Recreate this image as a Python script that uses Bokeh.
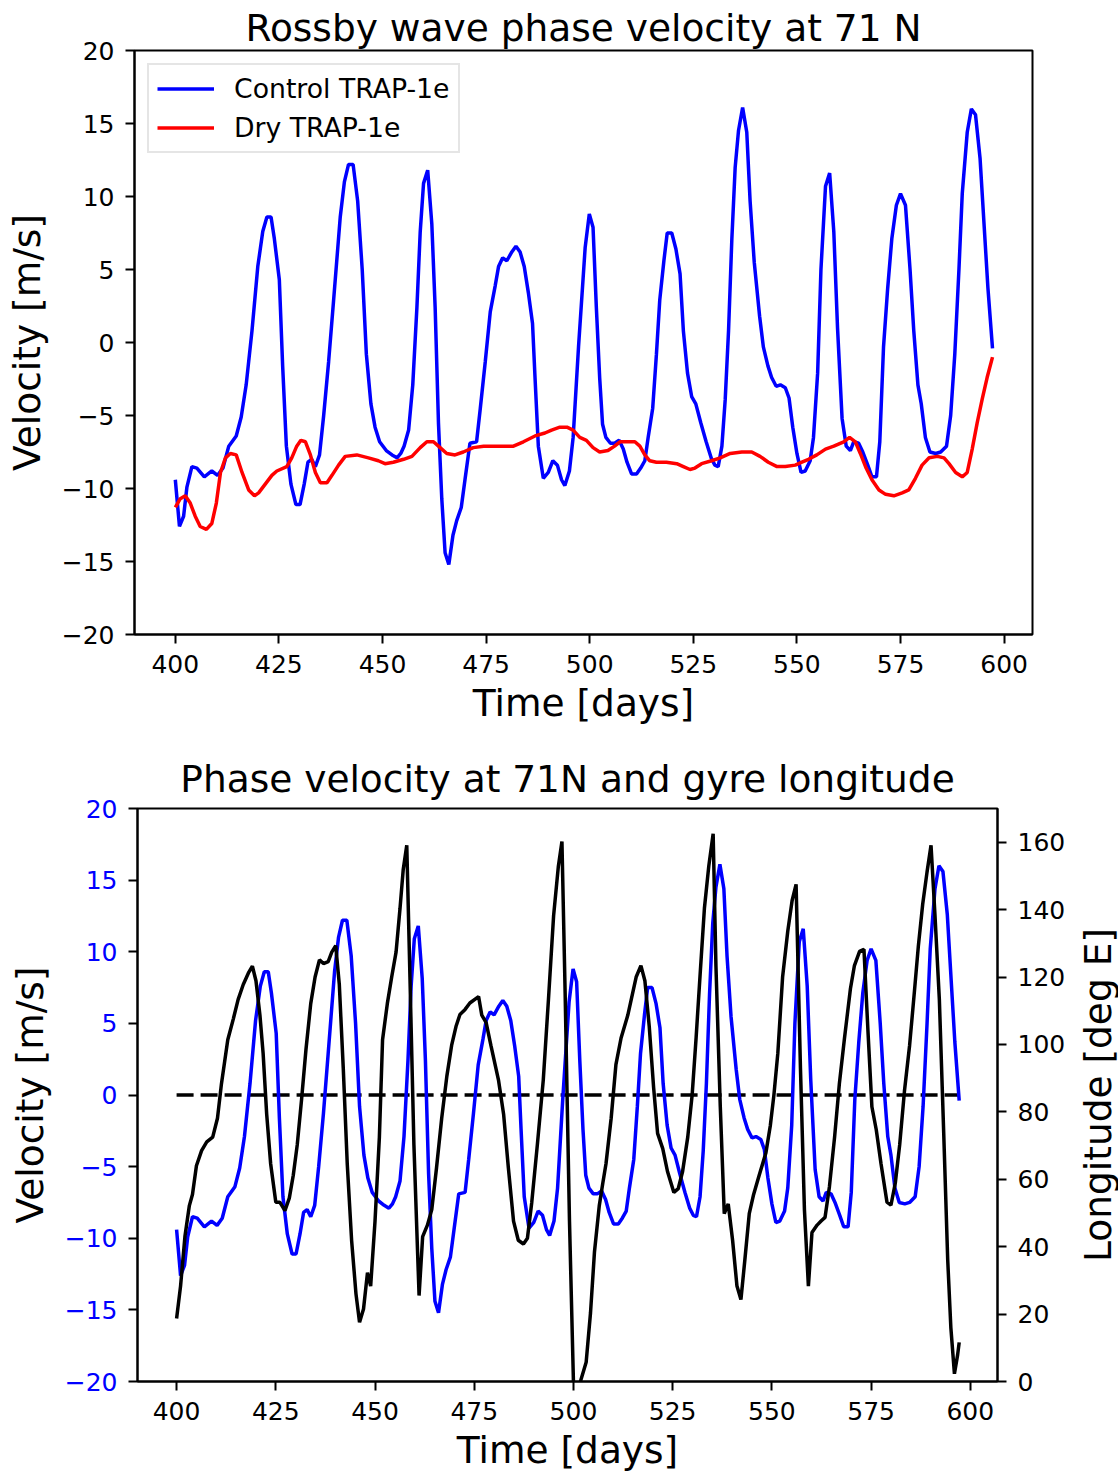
import math
from bokeh.plotting import figure
from bokeh.layouts import row
from bokeh.models import Range1d, LinearAxis, FixedTicker
from bokeh.core.properties import value
from bokeh.embed import file_html
from bokeh.resources import INLINE

# ---------------- data ----------------
blue_days = [400.0, 401.0, 402.0, 402.8, 404.0, 405.2, 407.0, 408.8, 410.2, 411.5, 412.9, 414.7, 415.9, 417.1,
             418.5, 419.9, 421.1, 422.1, 423.1, 423.9, 425.1, 425.9, 426.8, 427.9, 429.1, 430.1, 431.1, 432.0,
             432.9, 433.8, 434.8, 435.8, 437.0, 438.2, 439.8, 440.8, 441.8, 442.9, 444.0, 445.1, 446.1, 447.2,
             448.2, 449.3, 450.9, 452.3, 453.5, 454.4, 455.2, 456.3, 457.3, 458.3, 459.1, 459.9, 460.9, 461.9,
             462.7, 463.5, 464.3, 465.1, 466.0, 467.0, 467.9, 469.0, 469.9, 471.1, 472.7, 473.6, 474.8, 476.0,
             477.2, 478.0, 479.0, 480.0, 481.2, 482.2, 483.2, 484.2, 485.2, 486.2, 486.8, 487.6, 488.8, 490.0,
             491.1, 492.2, 493.2, 494.0, 495.1, 496.0, 497.3, 498.9, 499.9, 500.8, 501.6, 502.4, 503.1, 503.9,
             505.0, 506.0, 507.1, 508.1, 509.0, 510.1, 511.3, 512.3, 513.3, 514.1, 515.2, 516.1, 516.9, 517.9,
             518.7, 519.8, 520.8, 521.8, 522.6, 523.6, 524.6, 525.6, 526.8, 528.1, 529.3, 530.2, 531.0, 531.9,
             532.7, 533.5, 534.3, 535.1, 535.9, 536.9, 537.9, 538.7, 539.7, 541.0, 541.9, 543.0, 543.9, 545.0,
             546.0, 547.2, 548.1, 549.0, 550.0, 551.0, 552.0, 553.2, 554.0, 555.0, 555.8, 556.9, 557.9, 558.9,
             559.8, 560.9, 561.9, 562.9, 563.7, 564.9, 565.9, 567.1, 568.1, 569.2, 570.0, 570.9, 571.9, 572.9,
             574.0, 575.0, 576.2, 577.3, 578.2, 579.2, 580.0, 581.0, 582.1, 583.5, 584.7, 586.1, 587.1, 588.1,
             589.1, 589.9, 591.1, 592.1, 593.1, 594.2, 595.2, 596.1, 597.2]
blue_vel = [-9.4, -12.6, -11.9, -9.9, -8.5, -8.6, -9.2, -8.8, -9.1, -8.6, -7.1, -6.4, -5.1, -2.9,
            0.8, 5.2, 7.6, 8.6, 8.6, 7.1, 4.3, -1.6, -7.1, -9.7, -11.1, -11.1, -9.7, -8.2,
            -8.0, -8.5, -7.7, -5.0, -1.3, 2.9, 8.6, 11.0, 12.2, 12.2, 9.7, 5.0, -0.8, -4.2,
            -5.8, -6.8, -7.4, -7.7, -7.9, -7.6, -7.1, -6.0, -2.9, 2.4, 7.6, 10.9, 11.8, 8.1,
            2.4, -5.5, -10.7, -14.4, -15.2, -13.2, -12.2, -11.3, -9.4, -6.9, -6.8, -4.5, -1.3, 2.1,
            3.9, 5.2, 5.8, 5.6, 6.2, 6.6, 6.2, 5.2, 3.4, 1.3, -2.4, -7.1, -9.3, -8.9,
            -8.1, -8.4, -9.4, -9.8, -8.8, -6.5, -0.3, 6.5, 8.8, 7.9, 2.4, -2.4, -5.6, -6.5,
            -6.9, -6.9, -6.7, -7.3, -8.2, -9.0, -9.0, -8.6, -8.1, -6.5, -4.5, -0.8, 2.9, 5.6,
            7.5, 7.5, 6.4, 4.7, 0.8, -2.1, -3.7, -4.2, -5.5, -6.8, -7.9, -8.4, -8.5, -7.1,
            -3.9, 0.8, 7.1, 12.0, 14.5, 16.1, 14.4, 9.7, 5.5, 1.8, -0.3, -1.6, -2.4, -3.0,
            -2.9, -3.1, -3.8, -5.8, -7.6, -8.9, -8.8, -8.1, -6.5, -2.1, 5.0, 10.7, 11.6, 7.6,
            1.0, -5.2, -7.1, -7.4, -6.8, -6.9, -7.5, -8.4, -9.2, -9.2, -6.8, -0.3, 3.7, 7.1,
            9.4, 10.2, 9.4, 5.0, 0.8, -2.9, -4.2, -6.5, -7.5, -7.6, -7.5, -7.1, -5.0, -0.8,
            5.0, 10.2, 14.4, 16.0, 15.6, 12.6, 7.9, 3.7, -0.4]

red_days = [400.0, 401.2, 402.4, 403.6, 404.8, 406.0, 407.5, 408.8, 409.9, 410.9, 412.1, 413.3, 414.7, 416.1,
            417.7, 419.1, 420.1, 421.7, 423.3, 424.5, 426.9, 428.1, 429.3, 430.3, 431.4, 432.6, 433.8, 435.0,
            436.6, 437.8, 439.4, 441.0, 443.8, 446.6, 449.0, 450.6, 452.6, 455.1, 457.1, 459.1, 460.7, 462.3,
            463.9, 465.5, 467.5, 469.5, 471.9, 474.4, 477.6, 481.6, 484.0, 486.8, 489.2, 490.8, 492.8, 494.5,
            496.0, 497.6, 499.2, 500.8, 502.4, 504.4, 506.0, 507.3, 508.9, 510.9, 512.1, 513.3, 514.5, 516.1,
            518.5, 521.0, 522.6, 524.2, 525.4, 527.0, 529.4, 531.5, 533.9, 536.7, 539.1, 541.1, 543.1, 545.2,
            547.2, 549.6, 551.2, 552.8, 554.8, 556.9, 558.9, 561.3, 562.7, 564.1, 565.3, 566.7, 568.1, 569.8,
            571.4, 573.4, 575.4, 577.0, 578.6, 580.2, 581.9, 583.9, 585.5, 586.7, 588.3, 589.9, 591.1, 592.3,
            593.5, 594.7, 595.9, 597.2]
red_vel = [-11.3, -10.7, -10.5, -11.0, -11.9, -12.6, -12.8, -12.4, -11.0, -8.9, -7.9, -7.6, -7.7, -8.9,
           -10.1, -10.5, -10.3, -9.7, -9.1, -8.8, -8.5, -7.9, -7.1, -6.7, -6.8, -7.7, -8.9, -9.6,
           -9.6, -9.1, -8.4, -7.8, -7.7, -7.9, -8.1, -8.3, -8.2, -8.0, -7.8, -7.2, -6.8, -6.8,
           -7.2, -7.6, -7.7, -7.5, -7.2, -7.1, -7.1, -7.1, -6.8, -6.4, -6.2, -6.0, -5.8, -5.8,
           -6.0, -6.5, -6.7, -7.2, -7.5, -7.4, -7.1, -6.8, -6.8, -6.8, -7.1, -7.7, -8.1, -8.2,
           -8.2, -8.3, -8.5, -8.7, -8.6, -8.3, -8.1, -7.9, -7.6, -7.5, -7.5, -7.8, -8.2, -8.5,
           -8.5, -8.4, -8.2, -8.0, -7.7, -7.3, -7.1, -6.8, -6.5, -6.8, -7.6, -8.6, -9.4, -10.1,
           -10.4, -10.5, -10.3, -10.1, -9.3, -8.4, -7.9, -7.8, -7.9, -8.3, -8.9, -9.2, -8.9, -7.3,
           -5.5, -3.9, -2.4, -1.0]

black_days = [400.0, 401.0, 402.1, 403.2, 404.0, 405.0, 406.3, 407.6, 409.1, 410.3, 411.3, 412.9, 414.3, 415.5,
              416.8, 418.1, 419.1, 420.0, 421.0, 421.8, 422.7, 423.7, 425.0, 426.0, 427.3, 428.4, 429.4, 430.4,
              431.5, 432.6, 433.8, 434.9, 436.0, 437.0, 438.2, 439.1, 440.1, 441.0, 442.0, 443.0, 444.1, 445.2,
              446.1, 447.1, 448.1, 448.9, 450.0, 451.1, 451.9, 453.1, 454.2, 455.3, 456.3, 457.1, 458.0, 458.8,
              459.8, 461.1, 462.0, 463.2, 464.3, 465.5, 466.8, 468.1, 469.3, 470.4, 471.4, 472.7, 473.9, 476.1,
              476.9, 478.0, 479.2, 481.1, 482.4, 483.6, 484.9, 486.1, 487.4, 488.4, 489.5, 490.9, 492.4, 493.7,
              495.0, 496.2, 497.1, 497.9, 499.0, 500.1, 501.1, 502.0, 503.2, 504.3, 505.3, 506.5, 507.4, 508.2,
              509.5, 510.7, 512.0, 513.7, 515.8, 517.0, 518.0, 519.1, 520.2, 521.2, 522.5, 523.7, 525.3, 526.4,
              527.5, 528.8, 529.9, 530.9, 532.0, 533.0, 534.1, 535.2, 535.9, 537.0, 538.0, 539.0, 540.1, 541.2,
              542.2, 543.2, 544.3, 545.4, 546.8, 548.5, 549.6, 550.5, 551.5, 552.7, 554.0, 555.1, 556.1, 557.2,
              558.2, 559.2, 560.1, 561.4, 562.4, 563.4, 564.5, 565.8, 567.0, 568.3, 569.8, 570.8, 572.1, 573.2,
              574.2, 575.2, 576.3, 577.5, 579.0, 580.0, 581.1, 582.2, 583.4, 584.7, 585.9, 586.9, 588.0, 589.1,
              590.1, 591.1, 592.2, 593.3, 594.3, 595.1, 596.0, 596.8, 597.2]
black_lon = [18.7, 28.3, 43.0, 52.1, 55.5, 64.0, 68.5, 71.1, 72.5, 78.1, 88.3, 101.4, 107.6, 113.3,
             117.8, 121.2, 123.2, 118.9, 108.7, 97.4, 79.3, 64.6, 53.2, 53.2, 50.7, 54.4, 61.2, 70.2,
             83.8, 98.5, 112.1, 120.0, 125.1, 124.0, 124.6, 127.4, 129.3, 117.8, 92.9, 64.6, 41.9, 26.0,
             17.6, 21.5, 32.3, 28.3, 47.6, 72.5, 101.4, 112.1, 120.0, 127.4, 140.4, 151.8, 159.1, 120.0,
             70.2, 25.5, 43.0, 46.4, 51.0, 63.4, 78.1, 90.6, 99.7, 105.3, 108.9, 110.4, 112.3, 114.2,
             108.7, 106.5, 99.7, 89.5, 79.3, 63.4, 47.6, 41.9, 40.8, 42.5, 53.2, 70.2, 89.5, 113.3,
             138.2, 152.9, 160.2, 115.5, 47.6, -5.0, -3.0, 1.0, 5.7, 20.4, 38.5, 52.1, 58.9, 64.6,
             78.1, 94.0, 101.9, 108.7, 120.0, 123.4, 118.9, 105.3, 87.2, 73.6, 69.1, 62.3, 56.1, 57.2,
             62.3, 72.5, 84.9, 101.9, 122.3, 140.4, 152.9, 162.5, 123.4, 81.5, 49.8, 52.7, 41.9, 28.3,
             24.3, 36.2, 49.8, 55.5, 61.2, 67.9, 75.9, 84.9, 97.4, 120.0, 133.6, 142.7, 147.5, 92.9,
             51.0, 28.3, 44.2, 46.4, 47.6, 48.7, 57.8, 72.5, 88.3, 101.9, 116.6, 123.4, 127.6, 128.2,
             104.2, 81.5, 74.7, 64.6, 53.2, 52.3, 58.9, 70.2, 86.1, 99.7, 115.5, 129.1, 141.6, 151.2,
             159.1, 138.2, 113.3, 73.6, 36.2, 15.9, 2.3, 7.9, 11.6]

x_ticks = [400, 425, 450, 475, 500, 525, 550, 575, 600]
vel_ticks = [-20, -15, -10, -5, 0, 5, 10, 15, 20]
vel_tick_labels = ["\u221220", "\u221215", "\u221210", "\u22125", "0", "5", "10", "15", "20"]
lon_ticks = [0, 20, 40, 60, 80, 100, 120, 140, 160]
right_axis_label = "Longitude [deg E]"

X_START, X_END = 390.15, 606.85
VEL_MIN, VEL_MAX = -20, 20
LON_MIN, LON_MAX = 0, 170

zero_x = [blue_days[0], blue_days[-1]]
zero_y = [0, 0]

FONT = "DejaVu Sans"
BLUE = "#0000ff"
RED = "#ff0000"


def style_axis(ax, label_color="black", label_standoff=11, axis_label_standoff=8):
    ax.major_label_text_font = FONT
    ax.major_label_text_font_size = "25px"
    ax.major_label_text_color = label_color
    ax.axis_label_text_font = FONT
    ax.axis_label_text_font_size = "37.5px"
    ax.axis_label_text_font_style = "normal"
    ax.axis_label_text_color = "black"
    ax.axis_line_color = "black"
    ax.axis_line_width = 2
    ax.major_tick_line_color = "black"
    ax.major_tick_line_width = 2
    ax.major_tick_out = 9
    ax.major_tick_in = 0
    ax.minor_tick_out = 0
    ax.minor_tick_in = 0
    ax.major_label_standoff = label_standoff
    ax.axis_label_standoff = axis_label_standoff


def base_fig(title, width, height, bl, br, bt, bb, title_standoff):
    p = figure(width=width, height=height, output_backend="svg", toolbar_location=None,
               x_range=Range1d(X_START, X_END), y_range=Range1d(VEL_MIN, VEL_MAX),
               min_border_left=bl, min_border_right=br, min_border_top=bt, min_border_bottom=bb,
               title=title)
    p.title.text_font = FONT
    p.title.text_font_size = "37.5px"
    p.title.text_font_style = "normal"
    p.title.text_color = "black"
    p.title.align = "center"
    p.title.standoff = title_standoff
    p.xgrid.visible = False
    p.ygrid.visible = False
    p.outline_line_color = "black"
    p.outline_line_width = 2
    p.outline_line_alpha = 1.0
    p.xaxis.ticker = FixedTicker(ticks=x_ticks)
    p.yaxis.ticker = FixedTicker(ticks=vel_ticks)
    p.yaxis.major_label_overrides = {t: l for t, l in zip(vel_ticks, vel_tick_labels)}
    p.xaxis.axis_label = "Time [days]"
    p.yaxis.axis_label = "Velocity [m/s]"
    return p


# ---------------- top figure ----------------
p1 = base_fig("Rossby wave phase velocity at 71 N", 1111, 730, 134, 79, 50, 96, 2)
p1.title.text_line_height = 0.8
style_axis(p1.xaxis[0], label_standoff=11, axis_label_standoff=5)
style_axis(p1.yaxis[0], label_standoff=11, axis_label_standoff=10)
p1.line(blue_days, blue_vel, line_color=BLUE, line_width=3.5, legend_label="Control TRAP-1e")
p1.line(red_days, red_vel, line_color=RED, line_width=3.5, legend_label="Dry TRAP-1e")
lg = p1.legend[0]
lg.location = "top_left"
lg.margin = 13
lg.padding = 8
lg.spacing = 8
lg.label_text_font = FONT
lg.label_text_font_size = "26.7px"
lg.label_text_color = "black"
lg.label_standoff = 20
lg.glyph_width = 57
lg.glyph_height = 31
lg.label_height = 31
lg.border_line_color = "#cccccc"
lg.border_line_width = 2
lg.background_fill_alpha = 0.8

# ---------------- bottom figure ----------------
P2_TOP, P2_BOTTOM = 78, 92
p2 = base_fig("Phase velocity at 71N and gyre longitude", 1076, 744, 137, 79, P2_TOP, P2_BOTTOM, 15)
style_axis(p2.xaxis[0], label_standoff=11, axis_label_standoff=5)
style_axis(p2.yaxis[0], label_color=BLUE, label_standoff=11, axis_label_standoff=10)
p2.extra_y_ranges = {"lon": Range1d(LON_MIN, LON_MAX)}
rax = LinearAxis(y_range_name="lon", ticker=FixedTicker(ticks=lon_ticks))
style_axis(rax, label_standoff=11)
p2.add_layout(rax, "right")
p2.line(zero_x, zero_y, line_color="black", line_width=3.5, line_dash="17 7")
p2.line(blue_days, blue_vel, line_color=BLUE, line_width=3.5)
p2.line(black_days, black_lon, line_color="black", line_width=3.5, y_range_name="lon")

# narrow strip holding the right-hand axis title (reads bottom-to-top like the original)
lab = figure(width=42, height=744, output_backend="svg", toolbar_location=None,
             x_range=Range1d(0, 1), y_range=Range1d(LON_MIN, LON_MAX),
             min_border_left=0, min_border_right=0, min_border_top=P2_TOP, min_border_bottom=P2_BOTTOM)
lab.axis.visible = False
lab.grid.visible = False
lab.outline_line_color = None
lab.text(x=[0.5], y=[(LON_MIN + LON_MAX) / 2], text=[right_axis_label], angle=math.pi / 2,
         text_align="center", text_baseline="middle", text_font=value(FONT),
         text_font_size="37.5px", text_color="black")

open("out.html", "w").write(file_html([p1, row(p2, lab)], INLINE))
